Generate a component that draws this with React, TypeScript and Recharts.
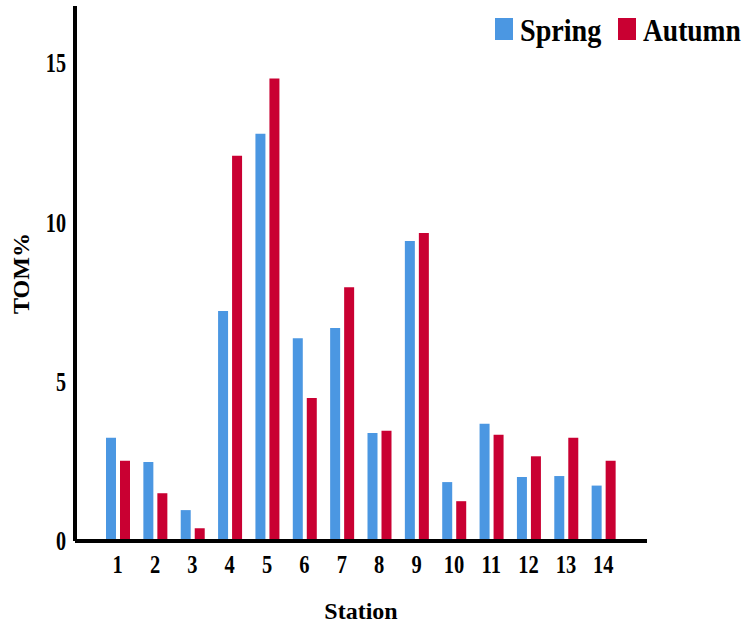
import React from "react";
import { Bar, BarChart, XAxis, YAxis, Label } from "recharts";

const stations = ["1", "2", "3", "4", "5", "6", "7", "8", "9", "10", "11", "12", "13", "14"];
const spring = [3.24, 2.48, 0.97, 7.22, 12.79, 6.37, 6.69, 3.39, 9.42, 1.85, 3.68, 2.01, 2.04, 1.74];
const autumn = [2.52, 1.5, 0.4, 12.1, 14.52, 4.49, 7.97, 3.46, 9.67, 1.25, 3.34, 2.66, 3.24, 2.52];
const yTicks = [0, 5, 10, 15];

const data = stations.map((name, i) => ({ name, spring: spring[i], autumn: autumn[i] }));

const FONT = '"Liberation Serif", "Times New Roman", serif';
const BLUE = "#4B97E2";
const RED = "#C90032";

// tick labels in the source are narrow, so squeeze them horizontally
const YTick = ({ x, y, payload }: any) => (
  <text
    transform={`translate(${x - 1},${y + 9}) scale(0.72,1)`}
    textAnchor="end"
    fontFamily={FONT}
    fontWeight="bold"
    fontSize={28}
    fill="#000"
  >
    {payload.value}
  </text>
);

const XTick = ({ x, y, payload }: any) => (
  <text
    transform={`translate(${x},${y + 24}) scale(0.82,1)`}
    textAnchor="middle"
    fontFamily={FONT}
    fontWeight="bold"
    fontSize={25}
    fill="#000"
  >
    {payload.value}
  </text>
);

const LegendBox = () => (
  <svg width={254} height={40} style={{ position: "absolute", left: 490, top: 10 }}>
    <rect x={5} y={8} width={18} height={22} fill={BLUE} />
    <text
      transform="translate(30,31) scale(0.88,1)"
      fontFamily={FONT}
      fontWeight="bold"
      fontSize={32}
      fill="#000"
    >
      Spring
    </text>
    <rect x={128} y={8} width={18} height={22} fill={RED} />
    <text
      transform="translate(153,31) scale(0.86,1)"
      fontFamily={FONT}
      fontWeight="bold"
      fontSize={32}
      fill="#000"
    >
      Autumn
    </text>
  </svg>
);

export default function App() {
  return (
    <div style={{ position: "absolute", left: 0, top: 0, width: 744, height: 628, background: "#fff" }}>
      <BarChart
        width={744}
        height={628}
        data={data}
        margin={{ top: 6, right: 97, bottom: 0, left: 0 }}
        barSize={10}
        barGap={4}
      >
        <XAxis
          dataKey="name"
          height={87}
          padding={{ left: 24, right: 25 }}
          axisLine={{ stroke: "#000", strokeWidth: 4 }}
          tickLine={false}
          tick={<XTick />}
          interval={0}
        >
          <Label
            value="Station"
            position="insideBottom"
            offset={9}
            fontFamily={FONT}
            fontWeight="bold"
            fontSize={24}
            fill="#000"
          />
        </XAxis>
        <YAxis
          width={75}
          domain={[0, 16.8]}
          ticks={yTicks}
          axisLine={{ stroke: "#000", strokeWidth: 4 }}
          tickLine={false}
          tick={<YTick />}
        >
          <Label
            value="TOM%"
            angle={-90}
            position="insideLeft"
            offset={20}
            fontFamily={FONT}
            fontWeight="bold"
            fontSize={24}
            fill="#000"
            style={{ textAnchor: "middle" }}
          />
        </YAxis>
        <Bar dataKey="spring" name="Spring" fill={BLUE} isAnimationActive={false} />
        <Bar dataKey="autumn" name="Autumn" fill={RED} isAnimationActive={false} />
      </BarChart>
      <LegendBox />
    </div>
  );
}
